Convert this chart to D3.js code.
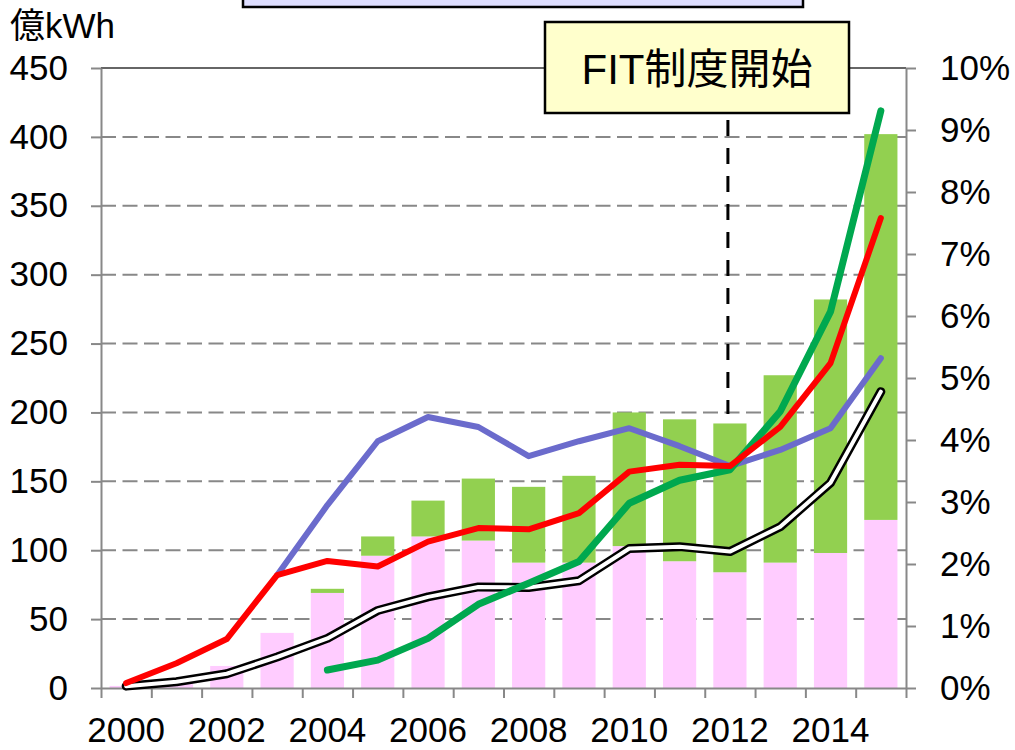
<!DOCTYPE html>
<html>
<head>
<meta charset="utf-8">
<script src="https://cdn.jsdelivr.net/npm/d3@7"></script>
<style>
  body { margin: 0; background: #fff; }
  svg text { font-family: "Liberation Sans", Arial, "Noto Sans CJK JP", sans-serif; fill: #000; }
</style>
</head>
<body>
<svg id="canvas"></svg>
<script>
// years on the category axis
let years = [2000, 2001, 2002, 2003, 2004, 2005, 2006, 2007, 2008, 2009, 2010, 2011, 2012, 2013, 2014, 2015]
let yearLabels = [2000, 2002, 2004, 2006, 2008, 2010, 2012, 2014]

// stacked bars, 億kWh
let pinkVals = [1.5, 3.5, 16, 40, 69, 96, 110, 107, 91, 91, 103, 92, 84, 91, 98, 122]
let greenVals = [0, 0, 0, 0, 3, 14, 26, 45, 55, 63, 97, 103, 108, 136, 184, 280]

// lines, % (right axis)
let blackLine = [0.03, 0.1, 0.23, 0.5, 0.8, 1.25, 1.47, 1.63, 1.62, 1.73, 2.25, 2.28, 2.2, 2.6, 3.31, 4.78]
let blueLine = [null, null, null, 1.82, 2.95, 3.98, 4.37, 4.21, 3.74, 3.98, 4.19, 3.9, 3.58, 3.84, 4.19, 5.32]
let greenLine = [null, null, null, null, 0.29, 0.45, 0.8, 1.35, 1.69, 2.04, 2.98, 3.35, 3.52, 4.46, 6.07, 9.31]
let redLine = [0.08, 0.4, 0.79, 1.82, 2.05, 1.96, 2.36, 2.58, 2.56, 2.82, 3.49, 3.6, 3.58, 4.21, 5.24, 7.58]

let leftTicks = [0, 50, 100, 150, 200, 250, 300, 350, 400, 450]
let rightTicks = [0, 1, 2, 3, 4, 5, 6, 7, 8, 9, 10]
let fitYear = 2012

let width = 1015
let height = 750
let plotLeft = 101, plotRight = 906, plotTop = 68, plotBottom = 688

let svg = d3.select("#canvas")
svg.attr("width", width).attr("height", height)

let xScale = d3.scaleBand()
    .domain(years)
    .range([plotLeft, plotRight])
    .paddingInner(0.34)
    .paddingOuter(0.17)

let xEdge = d3.scaleLinear()
    .domain([2000, 2016])
    .range([plotLeft, plotRight])

let yScale = d3.scaleLinear().domain([0, 450]).range([plotBottom, plotTop])
let pScale = d3.scaleLinear().domain([0, 10]).range([plotBottom, plotTop])

let cx = (y) => xScale(y) + xScale.bandwidth() / 2

// gridlines
svg.append("g")
    .selectAll("line")
    .data(leftTicks.filter(d => d > 0 && d < 450))
    .enter()
    .append("line")
    .attr("x1", plotLeft).attr("x2", plotRight)
    .attr("y1", d => yScale(d)).attr("y2", d => yScale(d))
    .attr("stroke", "#888")
    .attr("stroke-width", 2)
    .attr("stroke-dasharray", "15,6.5")

svg.append("line")
    .attr("x1", plotLeft).attr("x2", plotRight)
    .attr("y1", yScale(450)).attr("y2", yScale(450))
    .attr("stroke", "#333")
    .attr("stroke-width", 1.5)

// bars
svg.append("g")
    .selectAll("rect")
    .data(years)
    .enter()
    .append("rect")
    .attr("x", d => xScale(d))
    .attr("width", xScale.bandwidth())
    .attr("y", (d, i) => yScale(pinkVals[i]))
    .attr("height", (d, i) => yScale(0) - yScale(pinkVals[i]))
    .attr("fill", "#FFCCFF")

svg.append("g")
    .selectAll("rect")
    .data(years)
    .enter()
    .append("rect")
    .attr("x", d => xScale(d))
    .attr("width", xScale.bandwidth())
    .attr("y", (d, i) => yScale(pinkVals[i] + greenVals[i]))
    .attr("height", (d, i) => yScale(pinkVals[i]) - yScale(pinkVals[i] + greenVals[i]))
    .attr("fill", "#92D050")

// axes
let xTickAxis = d3.axisBottom(xEdge)
    .tickValues(d3.range(2000, 2017))
    .tickSize(10)
    .tickSizeOuter(0)
    .tickFormat("")
svg.append("g")
    .attr("transform", "translate(0," + plotBottom + ")")
    .call(xTickAxis)

let xLabelAxis = d3.axisBottom(xScale)
    .tickValues(yearLabels)
    .tickSize(0)
    .tickPadding(29)
svg.append("g")
    .attr("class", "xlab")
    .attr("transform", "translate(0," + plotBottom + ")")
    .call(xLabelAxis)
    .call(g => g.select(".domain").remove())

let yAxis = d3.axisLeft(yScale)
    .tickValues(leftTicks)
    .tickSize(10)
    .tickSizeOuter(0)
    .tickPadding(23)
svg.append("g")
    .attr("transform", "translate(" + plotLeft + ",0)")
    .call(yAxis)

let pAxis = d3.axisRight(pScale)
    .tickValues(rightTicks)
    .tickSize(10)
    .tickSizeOuter(0)
    .tickPadding(24)
    .tickFormat(d => d + "%")
svg.append("g")
    .attr("transform", "translate(" + plotRight + ",0)")
    .call(pAxis)

svg.selectAll(".domain, .tick line")
    .attr("stroke", "#888")
    .attr("stroke-width", 2)
svg.selectAll(".tick text")
    .attr("font-size", 35)
    .attr("fill", "#000")

// FIT marker line
svg.append("line")
    .attr("x1", cx(fitYear) - 2).attr("x2", cx(fitYear) - 2)
    .attr("y1", 113).attr("y2", 414)
    .attr("stroke", "#000")
    .attr("stroke-width", 3)
    .attr("stroke-dasharray", "16,12")
    .attr("stroke-dashoffset", -7)

// lines
let lineGen = d3.line()
    .defined(d => d.v != null)
    .x(d => cx(d.year))
    .y(d => pScale(d.v))

let toPts = (arr) => years.map((y, i) => ({ year: y, v: arr[i] }))

let drawLine = (arr, color, w) => {
    svg.append("path")
        .datum(toPts(arr))
        .attr("d", lineGen)
        .attr("fill", "none")
        .attr("stroke", color)
        .attr("stroke-width", w)
        .attr("stroke-linejoin", "round")
        .attr("stroke-linecap", "round")
}

drawLine(blackLine, "#000", 9)
drawLine(blackLine, "#fff", 4)
drawLine(blueLine, "#6B6BCC", 6)
drawLine(greenLine, "#00A84F", 7)
drawLine(redLine, "#FF0000", 6)

// boxes
svg.append("rect")
    .attr("x", 243).attr("y", -20)
    .attr("width", 560).attr("height", 27)
    .attr("fill", "#DEDEFF")
    .attr("stroke", "#000")
    .attr("stroke-width", 2.5)

svg.append("rect")
    .attr("x", 545).attr("y", 22)
    .attr("width", 304).attr("height", 91)
    .attr("fill", "#FFFFCC")
    .attr("stroke", "#000")
    .attr("stroke-width", 2.5)

svg.append("text")
    .attr("x", 697).attr("y", 84)
    .attr("text-anchor", "middle")
    .attr("font-size", 42)
    .text("FIT制度開始")

svg.append("text")
    .attr("x", 10).attr("y", 38)
    .attr("font-size", 35)
    .text("億kWh")
</script>
</body>
</html>
